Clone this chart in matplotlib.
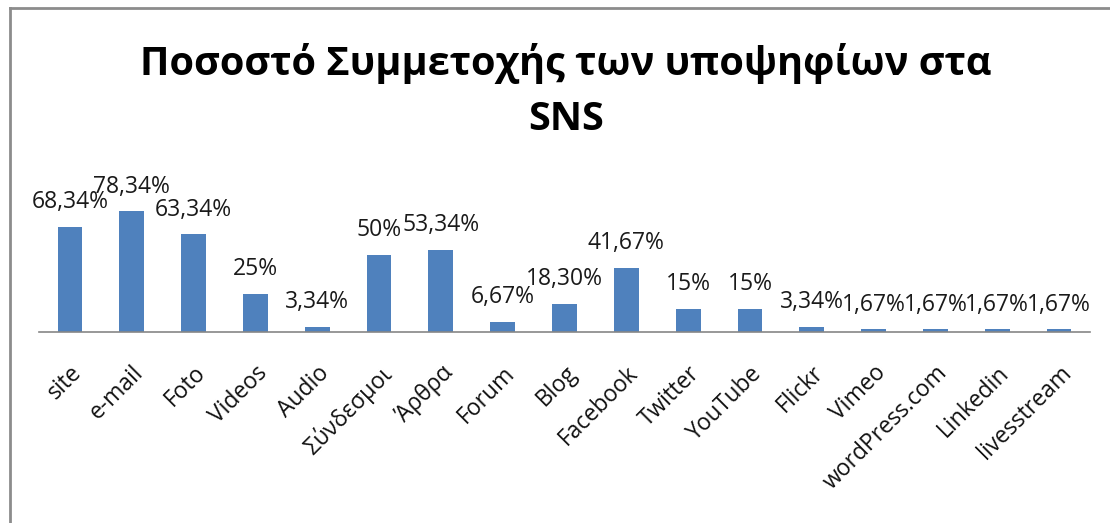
import numpy as np
import matplotlib.pyplot as plt
import matplotlib.transforms as mtransforms

plt.rcParams['font.family'] = ['Open Sans', 'DejaVu Sans']

# Data
categories = ["site", "e-mail", "Foto", "Videos", "Audio", "Σύνδεσμοι", "Άρθρα",
              "Forum", "Blog", "Facebook", "Twitter", "YouTube", "Flickr", "Vimeo",
              "wordPress.com", "Linkedin", "livesstream"]
values = [68.34, 78.34, 63.34, 25, 3.34, 50, 53.34, 6.67, 18.30, 41.67,
          15, 15, 3.34, 1.67, 1.67, 1.67, 1.67]
labels = ["68,34%", "78,34%", "63,34%", "25%", "3,34%", "50%", "53,34%", "6,67%",
          "18,30%", "41,67%", "15%", "15%", "3,34%", "1,67%", "1,67%", "1,67%", "1,67%"]
title = "Ποσοστό Συμμετοχής των υποψηφίων στα\nSNS"

W, H = 1110, 523
fig = plt.figure(figsize=(W / 100, H / 100), dpi=100)
ax = fig.add_axes([39 / W, 1 - 332 / H, (1090 - 39) / W, 154 / H])

x = np.arange(len(categories))
ax.bar(x, values, width=0.4, color="#4F81BD", zorder=2)
ax.set_xlim(-0.5, len(categories) - 0.5)
ax.set_ylim(0, 100)

# Data labels above bars
for xi, v, lab in zip(x, values, labels):
    ax.annotate(lab, (xi, v), xytext=(0, 9), textcoords="offset points",
                ha="center", va="bottom", fontsize=16.5, color="#1a1a1a")

# Axis styling: only a grey baseline
for s in ["top", "right", "left"]:
    ax.spines[s].set_visible(False)
ax.spines["bottom"].set_color("#868686")
ax.spines["bottom"].set_linewidth(1.2)
ax.set_yticks([])
ax.set_xticks(x)
ax.tick_params(axis="x", length=0, pad=21)
ax.set_xticklabels(categories, rotation=45, ha="right", rotation_mode="anchor",
                   fontsize=16.5, color="#111111")
shift = mtransforms.ScaledTranslation(0, 0, fig.dpi_scale_trans)
for t in ax.get_xticklabels():
    t.set_transform(t.get_transform() + shift)

# Title
fig.text(566 / W, 1 - 91 / H, title, ha="center", va="center", fontsize=28.5,
         fontweight="bold", linespacing=1.5)

# Chart border (left and top visible)
fig.add_artist(plt.Line2D([10 / W, 10 / W], [0, 1 - 8 / H], color="#8c8c8c", lw=2,
                          transform=fig.transFigure))
fig.add_artist(plt.Line2D([10 / W, 1], [1 - 8 / H, 1 - 8 / H], color="#8c8c8c", lw=2,
                          transform=fig.transFigure))

fig.savefig("out.png", dpi=100)
